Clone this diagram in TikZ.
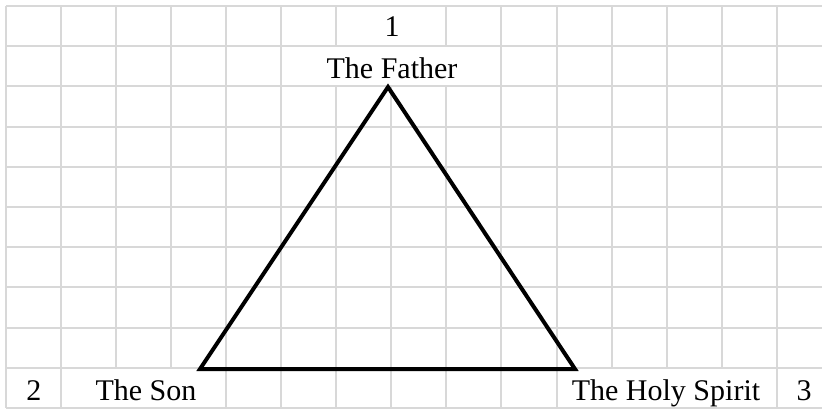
\documentclass[tikz,border=0pt]{standalone}
\usepackage{fontspec}
\setmainfont{Liberation Serif}
\usepackage{xcolor}
\usepackage{tikz}
\usetikzlibrary{calc, positioning}

\definecolor{gridgray}{RGB}{216,216,216}
\def\cw{55.05}
\def\rh{40.2}

\begin{document}
\begin{tikzpicture}[x=1pt, y=-1pt,
    gridline/.style={draw=gridgray, line width=2pt},
    celltext/.style={anchor=base, inner sep=0pt, font=\fontsize{30}{36}\selectfont},
    sideline/.style={black, line width=4pt}]
    \useasboundingbox (0,0) rectangle (822,410);

    % 1. Luoi o vuong mau xam nhat
    \foreach \j in {0,...,10}
        \draw[gridline] (6,{6+\j*\rh}) -- (822,{6+\j*\rh});
    \foreach \k in {0,1,4,5,9,10,14}
        \draw[gridline] ({6+\k*\cw},6) -- ({6+\k*\cw},{6+10*\rh});
    \foreach \k in {2,3,11,12,13}
        \draw[gridline] ({6+\k*\cw},6) -- ({6+\k*\cw},{6+9*\rh});
    \foreach \k in {6,8} {
        \draw[gridline] ({6+\k*\cw},6) -- ({6+\k*\cw},{6+\rh});
        \draw[gridline] ({6+\k*\cw},{6+2*\rh}) -- ({6+\k*\cw},{6+10*\rh});
    }
    \draw[gridline] ({6+7*\cw},{6+2*\rh}) -- ({6+7*\cw},{6+10*\rh});

    % 2. Tam giac mau den
    \coordinate (apex) at (388,87);
    \coordinate (sonpt) at (200,369);
    \coordinate (spiritpt) at (575,369);
    \draw[sideline] (apex) -- (sonpt) -- (spiritpt) -- cycle;

    % 3. Cac nhan trong o
    \node[celltext] (one) at (392,36) {1};
    \node[celltext] (father) at (392,78) {The Father};
    \node[celltext] (two) at (34,400) {2};
    \node[celltext] (son) at (146,400) {The Son};
    \node[celltext] (spirit) at (666,400) {The Holy Spirit};
    \node[celltext] (three) at (804,400) {3};

\end{tikzpicture}
\end{document}
